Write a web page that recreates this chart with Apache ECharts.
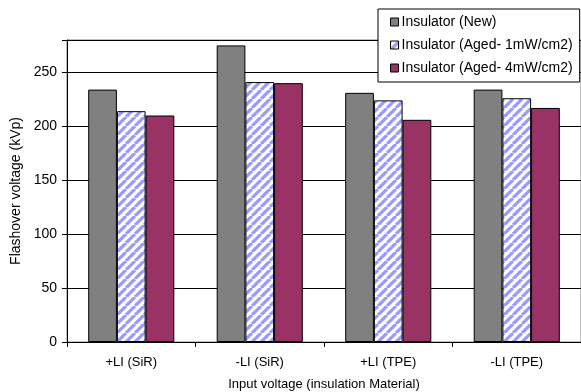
<!DOCTYPE html>
<html>
<head>
<meta charset="utf-8">
<script src="https://cdn.jsdelivr.net/npm/echarts@6/dist/echarts.min.js"></script>
<style>
  html, body { margin: 0; padding: 0; background: #fff; }
  #chart { width: 581px; height: 392px; }
</style>
</head>
<body>
<div id="chart"></div>
<script>
// Flashover voltage by input polarity and insulation material
const categories = ['+LI (SiR)', '-LI (SiR)', '+LI (TPE)', '-LI (TPE)'];
const seriesNames = ['Insulator (New)', 'Insulator (Aged- 1mW/cm2)', 'Insulator (Aged- 4mW/cm2)'];
const newValues = [234, 275, 231, 234];
const aged1Values = [214, 241, 224, 226];
const aged4Values = [210, 240, 206, 217];
const yTicks = [0, 50, 100, 150, 200, 250];

// Blue diagonal hatch used for the 1mW/cm2 series
function makeHatch() {
  const size = 9;
  const c = document.createElement('canvas');
  c.width = size; c.height = size;
  const g = c.getContext('2d');
  g.fillStyle = '#ffffff';
  g.fillRect(0, 0, size, size);
  g.strokeStyle = '#9999ff';
  g.lineWidth = 3.2;
  g.beginPath();
  for (let k = -1; k <= 1; k++) {
    g.moveTo(k * size, size);
    g.lineTo(k * size + size, 0);
  }
  g.stroke();
  return c;
}
const hatch = { image: makeHatch(), repeat: 'repeat' };

const font = 'Liberation Sans, Arial, sans-serif';
const chart = echarts.init(document.getElementById('chart'), null, { renderer: 'canvas' });

function barSeries(name, data, color) {
  return {
    name: name,
    type: 'bar',
    data: data,
    barGap: '0%',
    barCategoryGap: '33%',
    itemStyle: { color: color, borderColor: '#000', borderWidth: 1 },
    emphasis: { disabled: true }
  };
}

chart.setOption({
  animation: false,
  backgroundColor: '#fff',
  textStyle: { fontFamily: font },
  grid: {
    left: 67, right: 0, top: 40, bottom: 50,
    outerBoundsMode: 'none',
    containLabel: false,
    show: true, borderColor: '#808080', borderWidth: 1, backgroundColor: 'transparent'
  },
  legend: {
    orient: 'vertical',
    left: 378, top: 9,
    data: seriesNames,
    backgroundColor: '#fff',
    borderColor: '#000',
    borderWidth: 1,
    borderRadius: 0,
    padding: [5, 7, 6, 12],
    itemWidth: 8, itemHeight: 8, itemGap: 7,
    icon: 'rect',
    itemStyle: { borderColor: '#000', borderWidth: 1 },
    textStyle: { fontFamily: font, fontSize: 14, lineHeight: 16, color: '#000', padding: [0, 0, 0, -2] }
  },
  xAxis: {
    type: 'category',
    data: categories,
    name: 'Input voltage (insulation Material)',
    nameLocation: 'middle',
    nameGap: 36,
    nameTextStyle: { fontFamily: font, fontSize: 13, color: '#000' },
    axisLine: { lineStyle: { color: '#000', width: 1 } },
    axisTick: { show: true, length: 5, lineStyle: { color: '#000' } },
    axisLabel: { fontFamily: font, fontSize: 13, color: '#000', margin: 14 }
  },
  yAxis: {
    type: 'value',
    min: 0, max: 280, interval: 50,
    name: 'Flashover voltage (kVp)',
    nameLocation: 'middle',
    nameGap: 40,
    nameTextStyle: { fontFamily: font, fontSize: 14, color: '#000' },
    axisLine: { show: true, lineStyle: { color: '#000', width: 1 } },
    axisTick: { show: true, length: 5, lineStyle: { color: '#000' } },
    axisLabel: {
      fontFamily: font, fontSize: 14, color: '#000', margin: 10,
      formatter: v => (yTicks.indexOf(v) >= 0 ? String(v) : '')
    },
    splitLine: { show: true, lineStyle: { color: '#000', width: 1 } }
  },
  series: [
    barSeries(seriesNames[0], newValues, '#808080'),
    barSeries(seriesNames[1], aged1Values, hatch),
    barSeries(seriesNames[2], aged4Values, '#993366')
  ]
});
</script>
</body>
</html>
